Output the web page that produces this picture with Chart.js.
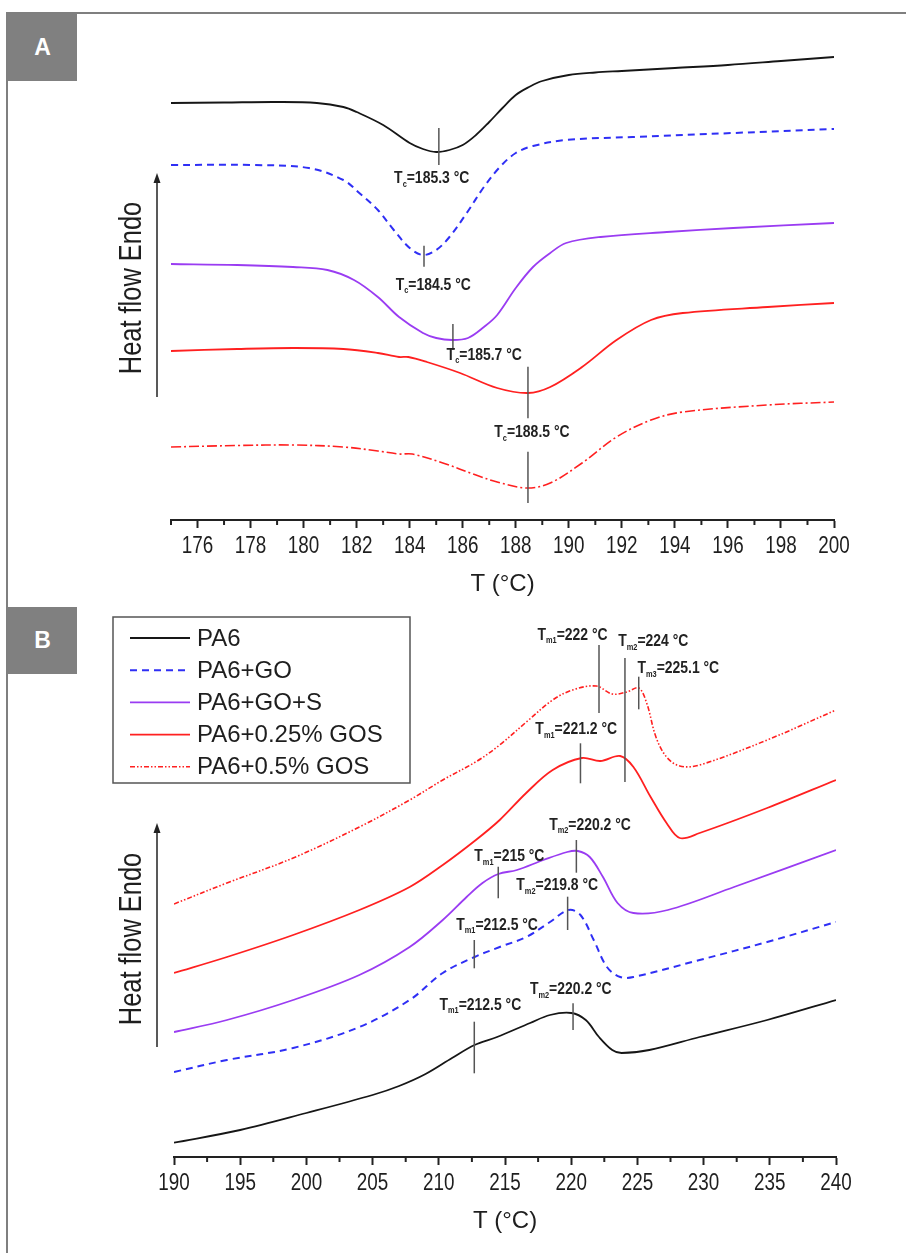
<!DOCTYPE html>
<html>
<head>
<meta charset="utf-8">
<script src="https://cdn.jsdelivr.net/npm/chart.js@4.4.1/dist/chart.umd.min.js"></script>
<style>
  body { margin: 0; background: #fff; }
  #page { position: relative; width: 906px; height: 1253px; overflow: hidden; background: #fff; }
  .rule { position: absolute; background: #7f7f7f; }
  .tag { position: absolute; left: 8px; width: 69px; background: #808080; color: #fff;
         font: bold 23px "Liberation Sans", Arial, sans-serif;
         display: flex; align-items: center; justify-content: center; }
  canvas { position: absolute; left: 0; }
</style>
</head>
<body>
<div id="page">
  <div class="rule" style="left:6px;top:12px;width:900px;height:2px"></div>
  <div class="rule" style="left:6px;top:12px;width:2px;height:1241px"></div>
  <div class="tag" style="top:14px;height:67px">A</div>
  <div class="tag" style="top:607px;height:67px">B</div>
  <canvas id="chartA" width="906" height="600" style="top:0"></canvas>
  <canvas id="chartB" width="906" height="640" style="top:600px"></canvas>
</div>
<script>
// ---- data: [T (°C), heat flow (arb. units, curves shifted)] ----
// A: cooling scans
const coolPA6 = [[175,41.7],[177,41.75],[179,41.8],[180.5,41.7],[181.5,41.3],[182,40.8],[183,39.5],[184,37.7],[184.5,37.1],[185,36.8],[185.5,37.0],[186,37.5],[186.5,38.5],[187,39.8],[187.5,41.2],[188,42.5],[188.5,43.3],[189,43.9],[190,44.5],[191,44.75],[192,44.9],[194,45.2],[196,45.5],[198,45.9],[200,46.3]];
const coolGO = [[175,35.5],[178,35.5],[180.2,35.2],[181.5,34.0],[182.1,32.7],[182.8,31.0],[183.4,29.0],[184,27.2],[184.5,26.5],[185,27.0],[185.5,28.3],[186.15,30.7],[186.8,33.3],[187.4,35.3],[188,36.7],[188.65,37.4],[189.9,38.0],[192.4,38.3],[196.2,38.7],[200,39.1]];
const coolGOS = [[175,25.6],[177.5,25.5],[179.6,25.3],[180.9,25.0],[181.9,24.0],[182.8,22.3],[183.6,20.3],[184.5,18.7],[185,18.2],[185.6,18.0],[186.2,18.2],[186.8,19.3],[187.3,20.5],[188,23.2],[188.65,25.3],[189.3,26.7],[189.9,27.7],[191.2,28.3],[193.7,28.8],[196.2,29.2],[200,29.7]];
const cool025 = [[175,16.9],[177.5,17.1],[179.6,17.2],[181.5,17.1],[182.8,16.7],[183.6,16.3],[183.95,16.3],[184.65,15.8],[185.9,14.7],[187.3,13.2],[188.46,12.7],[189.3,13.3],[190.5,15.3],[191.8,18.0],[193.1,20.0],[194.3,20.7],[197.5,21.3],[200,21.7]];
const cool05 = [[175,7.3],[177.5,7.45],[179.6,7.5],[181.5,7.3],[182.8,6.9],[183.6,6.6],[184.1,6.6],[185.25,5.7],[186.5,4.5],[187.3,3.8],[188.4,3.2],[189.3,3.7],[190.5,5.7],[191.8,8.3],[193.1,10.0],[194.3,10.8],[197.5,11.5],[200,11.8]];

// B: heating scans
const heatPA6 = [[190,1.43],[195,2.7],[200,4.4],[205,6.2],[207,7.1],[209,8.3],[211,9.9],[212.7,11.2],[214.4,12.0],[216.9,13.4],[218.4,14.2],[220,14.4],[221.1,13.7],[222.1,12.0],[223.1,10.7],[223.8,10.4],[225.9,10.7],[229.7,12.0],[234.8,13.7],[240,15.7]];
const heatGO = [[190,8.5],[194,9.7],[199,10.9],[204,13.0],[207.8,15.7],[210.3,18.4],[212.7,20.0],[214.6,21.0],[216.6,22.0],[218.4,23.5],[219.8,24.7],[220.7,24.2],[221.7,21.7],[222.7,19.0],[223.7,18.0],[224.7,18.0],[229.7,19.7],[234.8,21.5],[240,23.5]];
const heatGOS = [[190,12.5],[194,13.7],[199,15.7],[204,18.2],[207.8,21.0],[210.3,23.7],[212.1,26.0],[213.3,27.4],[214.5,28.3],[215.9,28.7],[217.9,29.7],[219.7,30.5],[220.5,30.6],[221.4,30.0],[222.4,28.0],[223.5,25.4],[224.7,24.4],[227.3,24.7],[232.3,27.0],[240,30.7]];
const heat025 = [[190,18.4],[194,20.0],[199,22.2],[204,24.7],[207.8,27.0],[210.3,29.2],[212.8,31.7],[214.6,33.7],[216.6,36.4],[218.6,38.7],[220.8,39.9],[222.2,39.6],[223.7,40.1],[224.7,39.0],[226,36.0],[227.2,33.4],[228.2,31.9],[229.7,32.4],[234.8,34.9],[240,37.7]];
const heat05 = [[190,25.3],[194,27.4],[199,29.9],[204,33.0],[207.8,35.7],[210.3,37.7],[212.9,39.6],[214.6,41.2],[216.7,43.6],[218.6,45.7],[220.1,46.7],[221.9,47.1],[223.1,46.3],[224.2,46.5],[225.1,46.9],[225.7,45.4],[226.4,42.0],[227.2,40.0],[228.2,39.1],[229.7,39.2],[234.8,41.7],[240,44.7]];

const names = ['PA6', 'PA6+GO', 'PA6+GO+S', 'PA6+0.25% GOS', 'PA6+0.5% GOS'];

// axis ticks
const ticksA = [176,178,180,182,184,186,188,190,192,194,196,198,200];
const minorA = [175,177,179,181,183,185,187,189,191,193,195,197,199];
const ticksB = [190,195,200,205,210,215,220,225,230,235,240];
const minorB = [192.5,197.5,202.5,207.5,212.5,217.5,222.5,227.5,232.5,237.5];

// peak labels (text values as printed)
const peaksA = ['185.3', '184.5', '185.7', '188.5'];
const peaksB = ['222', '224', '225.1', '221.2', '220.2', '215', '219.8', '212.5', '212.5', '220.2'];

// ---- styles ----
const FONT = '"Liberation Sans", Arial, sans-serif';
const SQ = 0.82; // horizontal squeeze for the narrow lettering
const colors = ['#161616', '#2f2ff5', '#9a3cf2', '#ff2020', '#ff2020'];
const widths = [1.8, 2, 1.8, 1.8, 1.6];
const dashA = [[], [7, 5], [], [], [10, 3, 2, 3]];
const dashB = [[], [7, 5], [], [], [5, 2, 1.5, 2, 1.5, 2]];

// marker lines and label anchors (data units)
const marksA = [
  {at: 185.1, y0: 35.5, y1: 39.2, sub: 'c', t: peaksA[0], lx: 184.83, ly: 34.17},
  {at: 184.54, y0: 25.33, y1: 27.43, sub: 'c', t: peaksA[1], lx: 184.89, ly: 23.5},
  {at: 185.63, y0: 17.0, y1: 19.6, sub: 'c', t: peaksA[2], lx: 186.81, ly: 16.5},
  {at: 188.46, y0: 10.17, y1: 15.33, sub: 'c', t: peaksA[3], lx: 188.61, ly: 8.73},
  {at: 188.46, y0: 1.7, y1: 6.83}
];
const marksB = [
  {at: 222.1, y0: 44.4, y1: 51.2, sub: 'm1', t: peaksB[0], lx: 220.1, ly: 52.2},
  {at: 224.06, y0: 37.5, y1: 49.9, sub: 'm2', t: peaksB[1], lx: 226.2, ly: 51.53},
  {at: 225.1, y0: 44.77, y1: 48.03, sub: 'm3', t: peaksB[2], lx: 228.09, ly: 48.87},
  {at: 220.7, y0: 37.37, y1: 41.37, sub: 'm1', t: peaksB[3], lx: 220.38, ly: 42.77},
  {at: 220.39, y0: 28.43, y1: 31.7, sub: 'm2', t: peaksB[4], lx: 221.42, ly: 33.2},
  {at: 214.49, y0: 25.87, y1: 29.03, sub: 'm1', t: peaksB[5], lx: 215.33, ly: 30.03},
  {at: 219.73, y0: 22.7, y1: 26.03, sub: 'm2', t: peaksB[6], lx: 218.94, ly: 27.13},
  {at: 212.68, y0: 18.87, y1: 21.7, sub: 'm1', t: peaksB[7], lx: 214.4, ly: 23.2},
  {at: 212.68, y0: 8.37, y1: 13.53, sub: 'm1', t: peaksB[8], lx: 213.14, ly: 15.2},
  {at: 220.14, y0: 12.7, y1: 15.37, sub: 'm2', t: peaksB[9], lx: 219.97, ly: 16.77}
];

function drawPeakLabel(ctx, cx, cy, sub, rest) {
  const big = 'bold 17px ' + FONT, small = 'bold 9px ' + FONT;
  ctx.font = big;
  const wT = ctx.measureText('T').width, wR = ctx.measureText(rest).width;
  ctx.font = small;
  const wS = ctx.measureText(sub).width;
  const total = (wT + wS + wR) * SQ;
  ctx.save();
  ctx.translate(cx - total / 2, cy);
  ctx.scale(SQ, 1);
  ctx.textBaseline = 'middle';
  ctx.textAlign = 'left';
  ctx.fillStyle = '#222';
  ctx.font = big; ctx.fillText('T', 0, 0);
  ctx.font = small; ctx.fillText(sub, wT, 6);
  ctx.font = big; ctx.fillText(rest, wT + wS, 0);
  ctx.restore();
}

// extra drawing: tick labels, minor ticks, peak markers, y label with arrow, legend
const decor = {
  id: 'decor',
  afterDraw(chart, args, o) {
    const {ctx, scales: {x, y}} = chart;
    ctx.save();
    // narrow tick labels under the major ticks
    ctx.font = '23px ' + FONT;
    ctx.fillStyle = '#1e1e1e';
    ctx.textAlign = 'center';
    ctx.textBaseline = 'middle';
    x.ticks.forEach(t => {
      ctx.save();
      ctx.translate(x.getPixelForValue(t.value), y.bottom + 27);
      ctx.scale(SQ, 1);
      ctx.fillText(String(t.value), 0, 0);
      ctx.restore();
    });
    // minor ticks
    ctx.strokeStyle = '#222';
    ctx.lineWidth = 2;
    o.minor.forEach(v => {
      const px = x.getPixelForValue(v);
      ctx.beginPath(); ctx.moveTo(px, y.bottom); ctx.lineTo(px, y.bottom + 5); ctx.stroke();
    });
    // peak markers
    o.marks.forEach(m => {
      const px = x.getPixelForValue(m.at);
      ctx.strokeStyle = '#555';
      ctx.lineWidth = 1.5;
      ctx.beginPath();
      ctx.moveTo(px, y.getPixelForValue(m.y0));
      ctx.lineTo(px, y.getPixelForValue(m.y1));
      ctx.stroke();
      if (m.t) drawPeakLabel(ctx, x.getPixelForValue(m.lx), y.getPixelForValue(m.ly), m.sub, '=' + m.t + ' °C');
    });
    // y axis label + arrow
    const yl = o.ylabel;
    ctx.strokeStyle = '#222';
    ctx.fillStyle = '#222';
    ctx.lineWidth = 1.5;
    ctx.beginPath(); ctx.moveTo(yl.ax, yl.bottom); ctx.lineTo(yl.ax, yl.top + 8); ctx.stroke();
    ctx.beginPath();
    ctx.moveTo(yl.ax, yl.top); ctx.lineTo(yl.ax - 3.5, yl.top + 10); ctx.lineTo(yl.ax + 3.5, yl.top + 10);
    ctx.closePath(); ctx.fill();
    ctx.save();
    ctx.translate(yl.tx, yl.ty);
    ctx.rotate(-Math.PI / 2);
    ctx.scale(SQ, 1);
    ctx.font = '31px ' + FONT;
    ctx.textAlign = 'center';
    ctx.textBaseline = 'middle';
    ctx.fillStyle = '#1e1e1e';
    ctx.fillText('Heat flow Endo', 0, 0);
    ctx.restore();
    // legend
    if (o.legend) {
      const L = o.legend;
      ctx.strokeStyle = '#555';
      ctx.lineWidth = 1.5;
      ctx.strokeRect(L.left, L.top, L.width, L.height);
      ctx.font = '24px ' + FONT;
      ctx.textBaseline = 'middle';
      ctx.textAlign = 'left';
      chart.data.datasets.forEach((ds, i) => {
        const ry = L.top + L.first + i * L.step;
        ctx.strokeStyle = ds.borderColor;
        ctx.lineWidth = ds.borderWidth;
        ctx.setLineDash(ds.borderDash);
        ctx.beginPath(); ctx.moveTo(L.left + 17, ry); ctx.lineTo(L.left + 77, ry); ctx.stroke();
        ctx.setLineDash([]);
        ctx.fillStyle = '#1e1e1e';
        ctx.fillText(ds.label, L.left + 84, ry + 1);
      });
    }
    ctx.restore();
  }
};

function makeChart(id, series, dashes, xr, yMax, major, pad, axisH, titlePad, extra) {
  return new Chart(document.getElementById(id), {
    type: 'line',
    data: {
      datasets: series.map((s, i) => ({
        label: names[i],
        data: s.map(([t, h]) => ({x: t, y: h})),
        borderColor: colors[i],
        borderWidth: widths[i],
        borderDash: dashes[i],
        pointRadius: 0,
        fill: false,
        tension: 0.35
      }))
    },
    options: {
      responsive: false,
      animation: false,
      events: [],
      layout: {padding: pad},
      plugins: {legend: {display: false}, tooltip: {enabled: false}, decor: extra},
      scales: {
        x: {
          type: 'linear', min: xr[0], max: xr[1],
          afterBuildTicks: s => { s.ticks = major.map(v => ({value: v})); },
          afterFit: s => { s.height = axisH; },
          border: {display: true, color: '#222', width: 2},
          grid: {drawOnChartArea: false, drawTicks: true, tickLength: 8, tickWidth: 2, tickColor: '#222'},
          ticks: {display: false},
          title: {display: true, text: 'T (°C)', color: '#1e1e1e', font: {family: FONT, size: 24}, padding: {top: 0, bottom: titlePad}}
        },
        y: {type: 'linear', display: false, min: 0, max: yMax}
      }
    },
    plugins: [decor]
  });
}

makeChart('chartA', [coolPA6, coolGO, coolGOS, cool025, cool05], dashA, [175, 200], 50, ticksA,
  {left: 171, right: 72, top: 20, bottom: 0}, 80, 1,
  {minor: minorA, marks: marksA, ylabel: {ax: 157, top: 173, bottom: 397, tx: 132, ty: 288}});

makeChart('chartB', [heatPA6, heatGO, heatGOS, heat025, heat05], dashB, [190, 240], 55, ticksB,
  {left: 174, right: 70, top: 7, bottom: 0}, 83, 4,
  {minor: minorB, marks: marksB, ylabel: {ax: 157, top: 223, bottom: 447, tx: 132, ty: 339},
   legend: {left: 113, top: 17, width: 297, height: 166, first: 21, step: 32.2}});
</script>
</body>
</html>
